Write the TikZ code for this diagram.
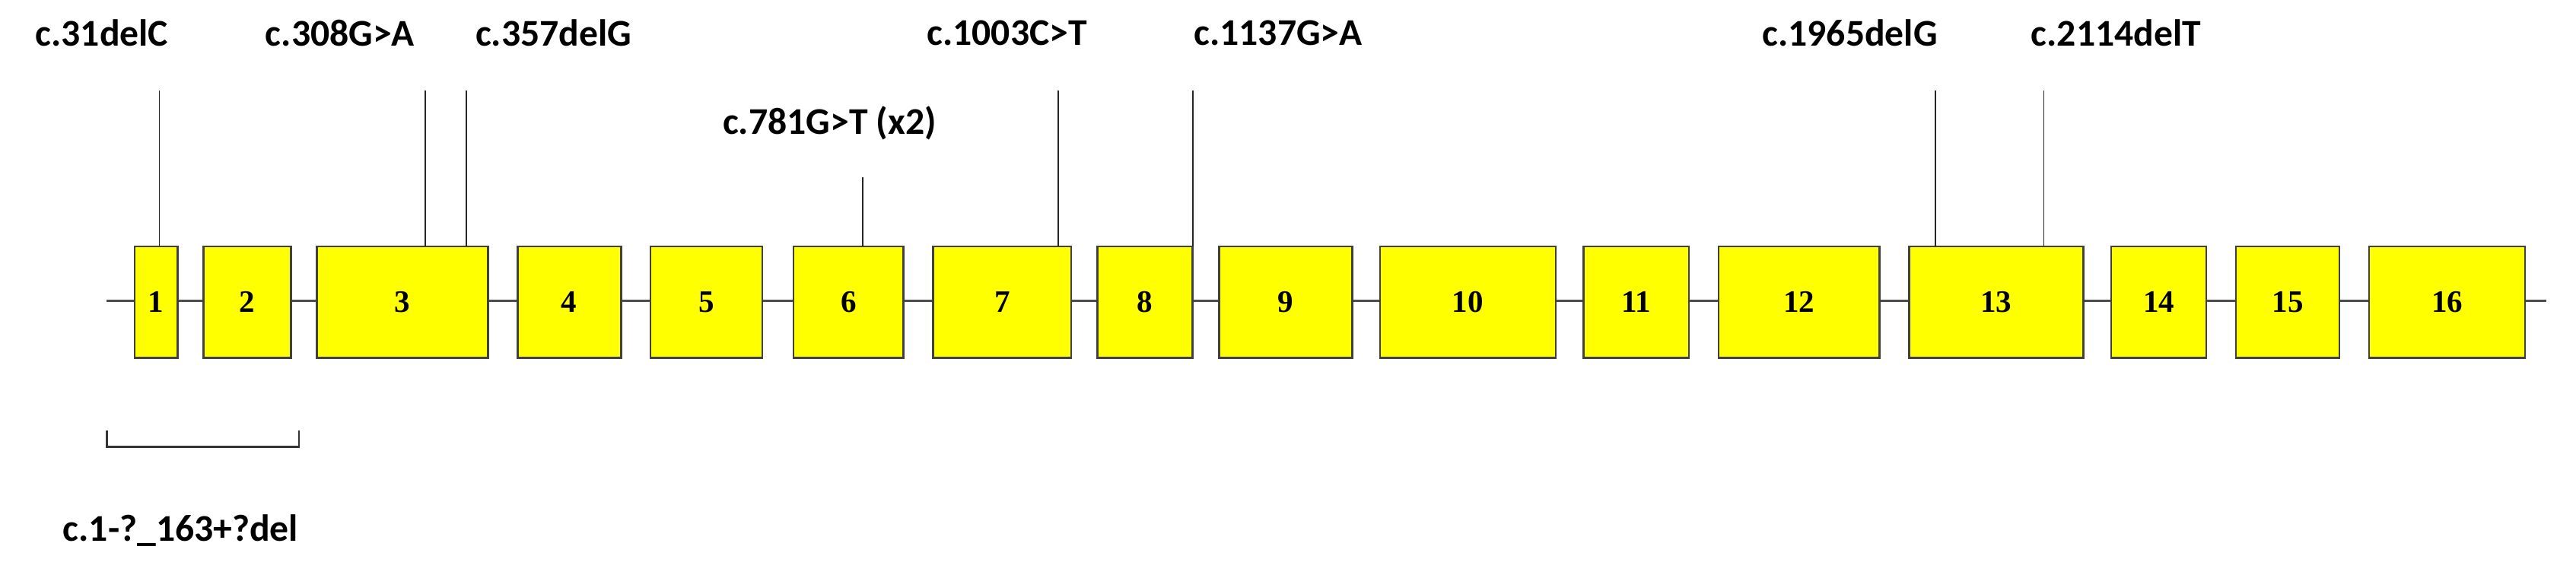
\documentclass[tikz,border=0pt]{standalone}
\usepackage{fontspec}
\setmainfont{Carlito}
\newfontfamily\numfont{Liberation Serif}
\definecolor{exonyellow}{RGB}{255,255,0}
\begin{document}
\begin{tikzpicture}[x=1pt,y=-1pt,
  exon/.style={draw=black!75,line width=1.2pt,fill=exonyellow,minimum height=68pt,inner sep=0pt,font=\numfont\bfseries\fontsize{19}{19}\selectfont},
  lab/.style={font=\bfseries\fontsize{23}{23}\selectfont,inner sep=0pt},
  mut/.style={draw=black!85,line width=0.8pt}]
\useasboundingbox (0,0) rectangle (1568,350);
\coordinate (L) at (65,183);
\coordinate (R) at (1550,183);
\draw[black!70,line width=1.5pt] (L) -- (R);
\foreach \n/\a/\b in {1/82/108,2/124/177,3/193/297,4/315/378,5/396/464,6/483/550,7/568/652,8/668/726,9/742/823,10/840/947,11/964/1028,12/1046/1144,13/1162/1268,14/1285/1343,15/1361/1424,16/1442/1537}{
  \pgfmathsetmacro\w{\b-\a}
  \node[exon,minimum width=\w pt] (e\n) at ({(\a+\b)/2},184) {\n};
}
\foreach \nm/\x/\ty/\lx/\ly/\txt in {m1/97/55/62/20/c.31delC, m2/259/55/207/20/c.308G>A, m3/284/55/337/20/c.357delG, m4/525/108/505/75/c.781G>T (x2), m5/644/55/613/20/c.1003C>T, m6/726/55/778/20/c.1137G>A, m7/1178/55/1126/20/c.1965delG, m8/1244/55/1288/20/c.2114delT}{
  \coordinate (\nm) at (\x,\ty);
  \node[lab] (\nm t) at (\lx,\ly) {\txt};
  \draw[mut] (\nm) -- (\x,150);
}
\coordinate (b1) at (65,262);
\coordinate (b2) at (182,262);
\coordinate (b3) at (65,272);
\coordinate (b4) at (182,272);
\draw[black!80,line width=1.2pt] (b1) -- (b3) -- (b4) -- (b2);
\node[lab] (dl) at (110,323) {c.1-?\_163+?del};
\end{tikzpicture}
\end{document}
